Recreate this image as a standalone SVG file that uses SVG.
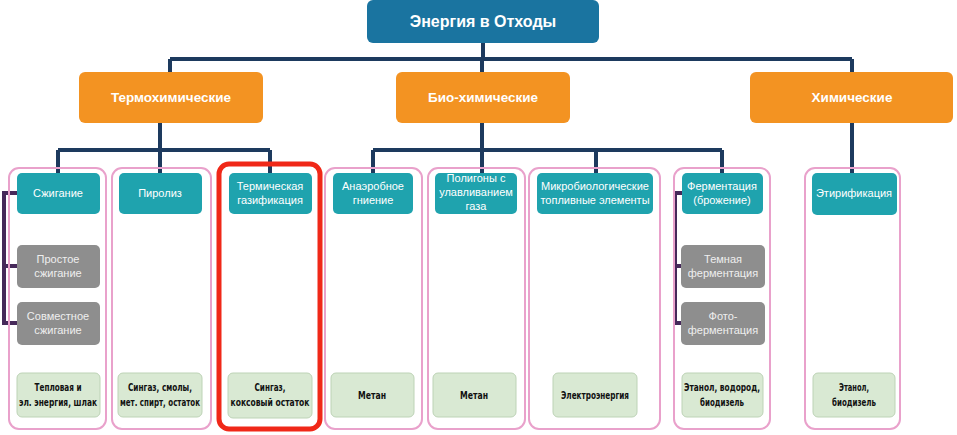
<svg xmlns="http://www.w3.org/2000/svg" width="957" height="435" viewBox="0 0 957 435">
<defs>
<style>
.root{fill:#1a74a0}
.cat{fill:#f39322}
.col{fill:none;stroke:#e9a1cb;stroke-width:2}
.red{fill:none;stroke:#f02818;stroke-width:5}
.teal{fill:#1fa3ae}
.grey{fill:#8e8e8e}
.green{fill:#d9e9d3;stroke:#bdd3b6;stroke-width:1}
.t1{font-family:"Liberation Sans",Arial,sans-serif;font-weight:bold;fill:#fff;text-anchor:middle}
.tt{font-family:"Liberation Sans",Arial,sans-serif;font-size:11px;fill:#fff;text-anchor:middle}
.tg{font-family:"Liberation Sans",Arial,sans-serif;font-size:11px;fill:#eeeeee;text-anchor:middle}
.tb{font-family:"DejaVu Sans Condensed","Liberation Sans",Arial,sans-serif;font-size:10px;font-weight:bold;fill:#111;text-anchor:middle}
.ln{fill:none;stroke:#1d3a5e;stroke-width:4}
.lp{fill:none;stroke:#46295a;stroke-width:4}
</style>
</defs>
<rect width="957" height="435" fill="#fff"/>
<g id="connectors">
<path class="ln" d="M483 43V59M170 59H852M170 59V72M482 59V72M852 59V72"/>
<path class="ln" d="M160 123V150M58 150H270M58 150V173M160 150V173M270 150V173"/>
<path class="ln" d="M482 123V150M373 150H722M373 150V173M482 150V173M596 150V173M722 150V173"/>
<path class="ln" d="M852 123V173"/>
<path class="lp" d="M17 193H4V323H17M4 266H17"/>
<path class="lp" d="M682 193H675V323H682M675 266H682"/>
</g>
<g id="root"><rect class="root" x="367" y="0" width="232" height="43" rx="6"/><text class="t1" x="483" y="27" font-size="16">Энергия в Отходы</text></g>
<g id="thermo"><rect class="cat" x="79" y="72" width="184" height="51" rx="6"/><text class="t1" x="171" y="102" font-size="13.5">Термохимические</text></g>
<g id="bio"><rect class="cat" x="396" y="72" width="174" height="51" rx="6"/><text class="t1" x="483" y="102" font-size="13.5">Био-химические</text></g>
<g id="chem"><rect class="cat" x="750" y="72" width="203" height="51" rx="6"/><text class="t1" x="852" y="102" font-size="13.5">Химические</text></g>

<g id="col1"><rect class="col" x="9" y="168" width="97" height="261" rx="10"/></g>
<g id="col2"><rect class="col" x="112" y="168" width="99" height="261" rx="10"/></g>
<g id="col3"><rect class="red" x="219" y="164" width="101" height="265" rx="10"/></g>
<g id="col4"><rect class="col" x="325" y="168" width="97" height="261" rx="10"/></g>
<g id="col5"><rect class="col" x="428" y="168" width="97" height="261" rx="10"/></g>
<g id="col6"><rect class="col" x="529" y="168" width="131" height="261" rx="10"/></g>
<g id="col7"><rect class="col" x="674" y="168" width="96" height="261" rx="10"/></g>
<g id="col8"><rect class="col" x="805" y="168" width="95" height="261" rx="10"/></g>

<g id="szhiganie"><rect class="teal" x="17" y="173" width="83" height="41" rx="5"/><text class="tt" x="58" y="197">Сжигание</text></g>
<g id="piroliz"><rect class="teal" x="119" y="173" width="83" height="41" rx="5"/><text class="tt" x="160" y="197">Пиролиз</text></g>
<g id="gazif"><rect class="teal" x="229" y="173" width="83" height="41" rx="5"/><text class="tt" x="270" y="190">Термическая</text><text class="tt" x="270" y="204">газификация</text></g>
<g id="anaerob"><rect class="teal" x="333" y="173" width="80" height="41" rx="5"/><text class="tt" x="373" y="190">Анаэробное</text><text class="tt" x="373" y="204">гниение</text></g>
<g id="poligony"><rect class="teal" x="435" y="173" width="82" height="41" rx="5"/><text class="tt" x="476" y="182">Полигоны с</text><text class="tt" x="476" y="196">улавливанием</text><text class="tt" x="476" y="210">газа</text></g>
<g id="mikro"><rect class="teal" x="537" y="173" width="116" height="41" rx="5"/><text class="tt" x="595" y="190">Микробиологические</text><text class="tt" x="595" y="204">топливные элементы</text></g>
<g id="ferm"><rect class="teal" x="682" y="173" width="81" height="41" rx="5"/><text class="tt" x="722" y="190">Ферментация</text><text class="tt" x="722" y="204">(брожение)</text></g>
<g id="etir"><rect class="teal" x="812" y="173" width="85" height="42" rx="5"/><text class="tt" x="854" y="197">Этирификация</text></g>

<g id="prostoe"><rect class="grey" x="17" y="245" width="83" height="43" rx="5"/><text class="tg" x="58" y="263">Простое</text><text class="tg" x="58" y="277">сжигание</text></g>
<g id="sovmest"><rect class="grey" x="17" y="302" width="83" height="43" rx="5"/><text class="tg" x="58" y="320">Совместное</text><text class="tg" x="58" y="334">сжигание</text></g>
<g id="temnaya"><rect class="grey" x="681" y="245" width="84" height="43" rx="5"/><text class="tg" x="723" y="263">Темная</text><text class="tg" x="723" y="277">ферментация</text></g>
<g id="foto"><rect class="grey" x="681" y="302" width="84" height="43" rx="5"/><text class="tg" x="723" y="320">Фото-</text><text class="tg" x="723" y="334">ферментация</text></g>

<g id="out1"><rect class="green" x="17" y="373" width="83" height="44" rx="5"/><text class="tb" x="58" y="391" textLength="47" lengthAdjust="spacingAndGlyphs">Тепловая и</text><text class="tb" x="58" y="406" textLength="78" lengthAdjust="spacingAndGlyphs">эл. энергия, шлак</text></g>
<g id="out2"><rect class="green" x="118" y="373" width="84" height="44" rx="5"/><text class="tb" x="160" y="391" textLength="64" lengthAdjust="spacingAndGlyphs">Сингаз, смолы,</text><text class="tb" x="160" y="406" textLength="80" lengthAdjust="spacingAndGlyphs">мет. спирт,  остаток</text></g>
<g id="out3"><rect class="green" x="228" y="373" width="84" height="45" rx="5"/><text class="tb" x="270" y="391" textLength="31" lengthAdjust="spacingAndGlyphs">Сингаз,</text><text class="tb" x="270" y="406" textLength="79" lengthAdjust="spacingAndGlyphs">коксовый остаток</text></g>
<g id="out4"><rect class="green" x="331" y="373" width="83" height="44" rx="5"/><text class="tb" x="372" y="399" textLength="28" lengthAdjust="spacingAndGlyphs">Метан</text></g>
<g id="out5"><rect class="green" x="433" y="373" width="83" height="44" rx="5"/><text class="tb" x="474" y="399" textLength="28" lengthAdjust="spacingAndGlyphs">Метан</text></g>
<g id="out6"><rect class="green" x="553" y="373" width="84" height="44" rx="5"/><text class="tb" x="595" y="399" textLength="68" lengthAdjust="spacingAndGlyphs">Электроэнергия</text></g>
<g id="out7"><rect class="green" x="682" y="373" width="81" height="44" rx="5"/><text class="tb" x="722" y="391" textLength="76" lengthAdjust="spacingAndGlyphs">Этанол, водород,</text><text class="tb" x="722" y="406" textLength="44" lengthAdjust="spacingAndGlyphs">биодизель</text></g>
<g id="out8"><rect class="green" x="813" y="373" width="82" height="44" rx="5"/><text class="tb" x="854" y="391" textLength="30" lengthAdjust="spacingAndGlyphs">Этанол,</text><text class="tb" x="854" y="406" textLength="44" lengthAdjust="spacingAndGlyphs">биодизель</text></g>
</svg>
